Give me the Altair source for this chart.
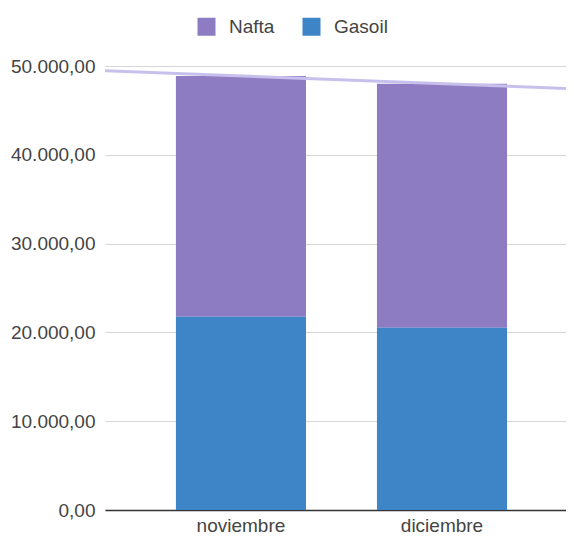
import altair as alt
import pandas as pd

meses = ["noviembre", "diciembre"]
idx = [0, 1]
gasoil = [21750, 20520]
nafta = [27120, 27490]
series = ["Nafta", "Gasoil"]
colores = ["#8e7cc3", "#3d85c6"]
y_ticks = [0, 10000, 20000, 30000, 40000, 50000]

df = pd.DataFrame({"mes": meses, "idx": idx, "Gasoil": gasoil, "Nafta": nafta})

FONT = "Liberation Sans"
label_expr = "replace(replace(replace(format(datum.value, ',.2f'), ',', '#'), '.', ','), '#', '.')"

yscale = alt.Scale(domain=[0, 50000], nice=False, zero=True)
trend_dom = [-0.677, 1.617]

bars = alt.Chart(df).transform_fold(
    ["Nafta", "Gasoil"], as_=["serie", "valor"]
).transform_calculate(
    ord="datum.serie == 'Gasoil' ? 0 : 1"
).mark_bar().encode(
    x=alt.X("mes:N", sort=meses, title=None,
            scale=alt.Scale(paddingInner=0.353, paddingOuter=0.323, align=0.546),
            axis=alt.Axis(labelAngle=0, labelFontSize=19, labelFont=FONT, labelColor="#444444",
                          labelPadding=6, ticks=False, domainColor="#333333", domainWidth=1.5,
                          grid=False)),
    y=alt.Y("valor:Q", stack="zero", title=None, scale=yscale,
            axis=alt.Axis(values=y_ticks, labelExpr=label_expr, labelFontSize=19, labelFont=FONT,
                          labelColor="#444444", labelPadding=10, ticks=False, domain=False,
                          grid=True, gridColor="#d6d6d6", gridWidth=1)),
    color=alt.Color("serie:N", scale=alt.Scale(domain=series, range=colores),
                    legend=alt.Legend(title=None, orient="none", legendX=92, legendY=-49,
                                      direction="horizontal", symbolType="square", symbolSize=324,
                                      symbolStrokeWidth=0, labelFontSize=19, labelFont=FONT,
                                      labelColor="#444444", labelOffset=13, columnPadding=27,
                                      padding=0)),
    order=alt.Order("ord:Q"),
)

trend = alt.Chart(df).transform_calculate(
    total="datum.Gasoil + datum.Nafta"
).transform_regression(
    "idx", "total", extent=trend_dom
).mark_line(color="#c8c0ec", strokeWidth=3, clip=True).encode(
    x=alt.X("idx:Q", axis=None, scale=alt.Scale(domain=trend_dom, nice=False, zero=False)),
    y=alt.Y("total:Q", scale=yscale),
)

chart = alt.layer(bars, trend).resolve_scale(x="independent").properties(
    width=461, height=444,
    autosize=alt.AutoSizeParams(type="none"),
    padding={"left": 97, "top": 58, "right": 0, "bottom": 27},
).configure_view(stroke=None)

chart.save("out.html", embed_options={"renderer": "svg", "actions": False})
